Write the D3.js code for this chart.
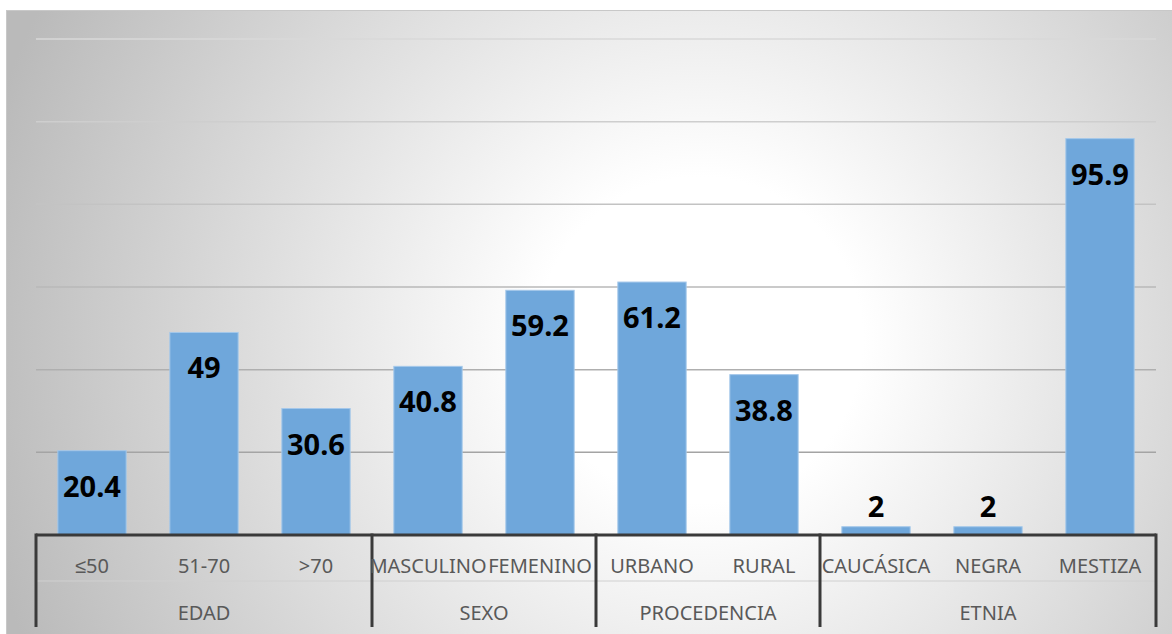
<!DOCTYPE html>
<html lang='en'>
<head>
  <meta charset='utf-8'>
  <script src="https://d3js.org/d3.v7.min.js"></script>
  <title>Distribución por grupo</title>
  <style>
    body { margin: 0; background: #ffffff; }
    svg { display: block; }
  </style>
</head>
<body>
  <div id="my_dataviz"></div>

  <script>
    // data
    const categories = ["≤50", "51-70", ">70", "MASCULINO", "FEMENINO", "URBANO", "RURAL", "CAUCÁSICA", "NEGRA", "MESTIZA"];
    const values = [20.4, 49, 30.6, 40.8, 59.2, 61.2, 38.8, 2, 2, 95.9];
    const groups = ["EDAD", "SEXO", "PROCEDENCIA", "ETNIA"];
    const groupSizes = [3, 2, 2, 3];
    const yTicks = [0, 20, 40, 60, 80, 100, 120];

    const W = 1172, H = 634;
    const margin = {top: 39, right: 16, bottom: 99, left: 36},
          width = W - margin.left - margin.right,
          height = H - margin.top - margin.bottom;

    const root = d3.select("#my_dataviz")
      .append("svg")
      .attr("width", W)
      .attr("height", H);

    // background with radial gradient
    const defs = root.append("defs");
    const grad = defs.append("radialGradient")
      .attr("id", "bg")
      .attr("gradientUnits", "userSpaceOnUse")
      .attr("cx", 700).attr("cy", 340).attr("r", 740);
    grad.append("stop").attr("offset", "0%").attr("stop-color", "#ffffff");
    grad.append("stop").attr("offset", "22%").attr("stop-color", "#ffffff");
    grad.append("stop").attr("offset", "100%").attr("stop-color", "#bababa");

    root.append("rect")
      .attr("x", 6.5).attr("y", 10.5)
      .attr("width", W).attr("height", H)
      .attr("fill", "url(#bg)")
      .attr("stroke", "#c8c8c8")
      .attr("stroke-width", 1);

    const svg = root.append("g")
      .attr("transform", `translate(${margin.left}, ${margin.top})`);

    const x = d3.scaleBand()
      .domain(categories)
      .range([0, width])
      .paddingInner(0.39)
      .paddingOuter(0.195);

    const y = d3.scaleLinear()
      .domain([0, 120])
      .range([height, 0]);

    // gridlines: darker near the bottom, lighter at the top
    const gridColor = d3.scaleLinear().domain([0, 120]).range(["#9a9a9a", "#d8d8d8"]);
    svg.append("g")
      .selectAll("line")
      .data(yTicks.filter(d => d > 0))
      .join("line")
        .attr("x1", 0)
        .attr("x2", width)
        .attr("y1", d => y(d))
        .attr("y2", d => y(d))
        .attr("stroke", d => gridColor(d))
        .attr("stroke-width", 1.5);

    // bars
    svg.append("g")
      .selectAll("rect")
      .data(values)
      .join("rect")
        .attr("x", (d, i) => x(categories[i]))
        .attr("y", d => y(d))
        .attr("width", x.bandwidth())
        .attr("height", d => height - y(d))
        .attr("fill", "#6fa7db")
        .attr("stroke", "#a4c8ea")
        .attr("stroke-width", 1);

    // value labels
    svg.append("g")
      .selectAll("text")
      .data(values)
      .join("text")
        .attr("x", (d, i) => x(categories[i]) + x.bandwidth() / 2)
        .attr("y", d => (height - y(d)) > 40 ? y(d) + 46 : y(d) - 10)
        .attr("text-anchor", "middle")
        .style("font-family", "'Noto Sans', sans-serif")
        .style("font-weight", "bold")
        .style("font-size", "29px")
        .style("fill", "#000000")
        .text(d => d);

    // multi level category axis
    const axis = svg.append("g").attr("transform", `translate(0, ${height})`);
    const rowMid = 46, rowBottom = 92;

    axis.append("line")
      .attr("x1", 0).attr("x2", width)
      .attr("y1", rowMid).attr("y2", rowMid)
      .attr("stroke", "#d0d0d0").attr("stroke-width", 1);

    axis.append("line")
      .attr("x1", 0).attr("x2", width)
      .attr("y1", 0).attr("y2", 0)
      .attr("stroke", "#3a3a3a").attr("stroke-width", 3);

    // group separators
    const bounds = [0];
    groupSizes.forEach((n, i) => bounds.push(bounds[i] + n));
    const step = x.step();
    const bx = k => k * step;

    axis.selectAll(".sep")
      .data(bounds)
      .join("line")
        .attr("class", "sep")
        .attr("x1", d => bx(d)).attr("x2", d => bx(d))
        .attr("y1", -1.5).attr("y2", rowBottom)
        .attr("stroke", "#3a3a3a")
        .attr("stroke-width", 3);

    axis.selectAll(".cat")
      .data(categories)
      .join("text")
        .attr("class", "cat")
        .attr("x", d => x(d) + x.bandwidth() / 2)
        .attr("y", 38)
        .attr("text-anchor", "middle")
        .style("font-family", "'Noto Sans', sans-serif")
        .style("font-size", "20px")
        .style("fill", "#595959")
        .text(d => d);

    axis.selectAll(".grp")
      .data(groups)
      .join("text")
        .attr("class", "grp")
        .attr("x", (d, i) => (bx(bounds[i]) + bx(bounds[i + 1])) / 2)
        .attr("y", 85)
        .attr("text-anchor", "middle")
        .style("font-family", "'Noto Sans', sans-serif")
        .style("font-size", "20px")
        .style("fill", "#595959")
        .text(d => d);
  </script>
</body>
</html>
